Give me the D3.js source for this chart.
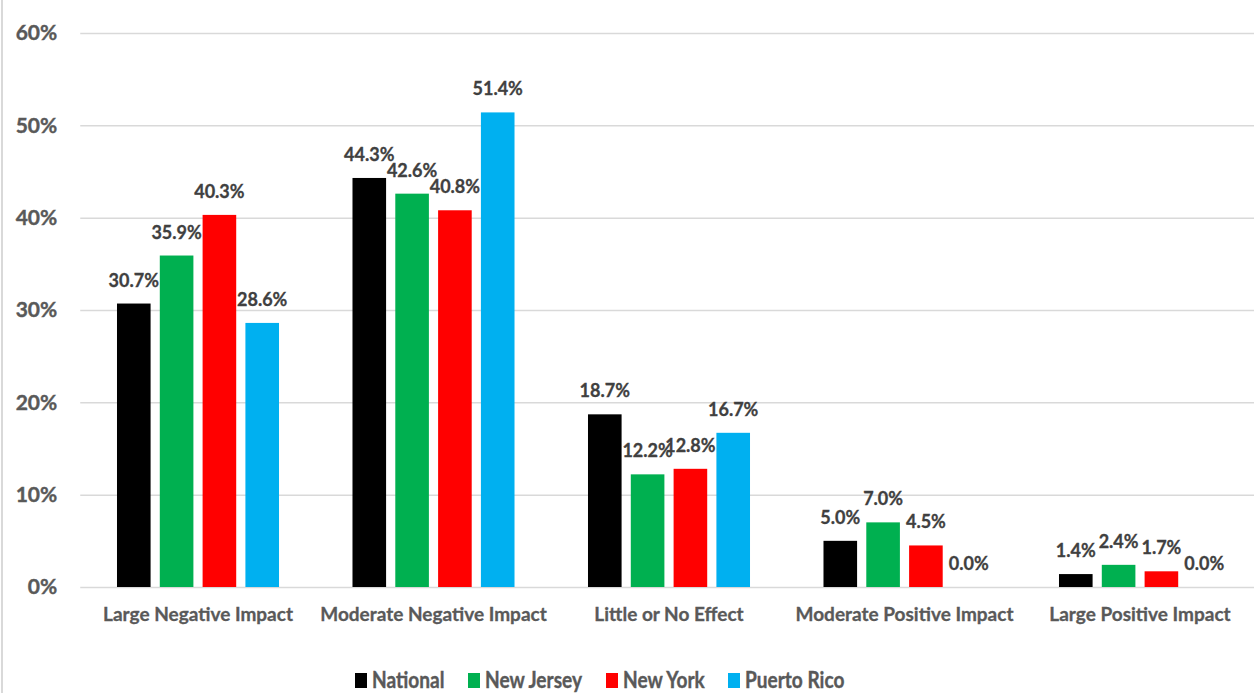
<!DOCTYPE html>
<html>
<head>
<meta charset="utf-8">
<script src="https://cdn.jsdelivr.net/npm/d3@7"></script>
<style>
  html, body { margin: 0; padding: 0; background: #ffffff; }
  svg { display: block; font-family: Lato, "Open Sans", sans-serif; font-weight: bold; }
</style>
</head>
<body>
<svg id="chart" width="1254" height="693"></svg>
<script>
// Survey responses by region: share of respondents per impact category
const categories = ["Large Negative Impact", "Moderate Negative Impact", "Little or No Effect", "Moderate Positive Impact", "Large Positive Impact"];
const seriesNames = ["National", "New Jersey", "New York", "Puerto Rico"];
const seriesColors = ["#000000", "#00B050", "#FF0000", "#00B0F0"];
const national   = [30.7, 44.3, 18.7, 5.0, 1.4];
const newJersey  = [35.9, 42.6, 12.2, 7.0, 2.4];
const newYork    = [40.3, 40.8, 12.8, 4.5, 1.7];
const puertoRico = [28.6, 51.4, 16.7, 0.0, 0.0];
const yTicks = [0, 10, 20, 30, 40, 50, 60];

const seriesValues = [national, newJersey, newYork, puertoRico];
const rows = [];
categories.forEach((c, ci) => {
  seriesNames.forEach((s, si) => rows.push({ category: c, series: s, value: seriesValues[si][ci], color: seriesColors[si] }));
});

const svg = d3.select("#chart");
const plotLeft = 80.25, plotRight = 1257.75, plotTop = 33, plotBottom = 587;

const x0 = d3.scaleBand().domain(categories).range([plotLeft, plotRight]).padding(0);
const bw = x0.bandwidth();
const x1 = d3.scaleBand().domain(seriesNames).range([bw * 0.156, bw * 0.844]).paddingInner(0.215).paddingOuter(0);
const y = d3.scaleLinear().domain([0, 60]).range([plotBottom, plotTop]);

// left frame edge
svg.append("line").attr("x1", 2).attr("x2", 2).attr("y1", 0).attr("y2", 693)
  .attr("stroke", "#d9d9d9").attr("stroke-width", 2);

// gridlines + y tick labels
const yAxis = d3.axisLeft(y).tickValues(yTicks).tickSize(-(plotRight - plotLeft)).tickFormat(d => d + "%");
const gy = svg.append("g").attr("transform", `translate(${plotLeft},0)`).call(yAxis);
gy.select(".domain").remove();
gy.selectAll(".tick line").attr("stroke", "#d9d9d9").attr("stroke-width", 1.5);
gy.selectAll(".tick text").attr("x", -23).attr("fill", "#595959")
  .attr("stroke", "#595959").attr("stroke-width", 0.4)
  .style("font-size", "21px").style("font-family", "Lato, sans-serif").style("font-weight", "bold");

// x category labels
const gx = svg.append("g").attr("transform", `translate(0,${plotBottom})`)
  .call(d3.axisBottom(x0).tickSize(0).tickPadding(21));
gx.select(".domain").remove();
gx.selectAll(".tick text").attr("fill", "#595959")
  .attr("stroke", "#595959").attr("stroke-width", 0.3)
  .style("font-size", "19px").style("font-family", "Lato, sans-serif").style("font-weight", "bold");

// bars
const groups = svg.append("g").selectAll("g").data(categories).join("g")
  .attr("transform", d => `translate(${x0(d)},0)`);
groups.selectAll("rect").data(c => rows.filter(r => r.category === c)).join("rect")
  .attr("x", d => x1(d.series))
  .attr("width", x1.bandwidth())
  .attr("y", d => y(d.value))
  .attr("height", d => y(0) - y(d.value))
  .attr("fill", d => d.color);

// value labels
groups.selectAll("text.val").data(c => rows.filter(r => r.category === c)).join("text")
  .attr("class", "val")
  .attr("x", d => x1(d.series) + x1.bandwidth() / 2)
  .attr("y", d => y(d.value) - 17)
  .attr("text-anchor", "middle")
  .attr("fill", "#404040")
  .attr("stroke", "#404040").attr("stroke-width", 0.3)
  .style("font-size", "18px")
  .text(d => d.value.toFixed(1) + "%");

// legend
const legendX = [355, 468, 606, 728];
const lg = svg.append("g").selectAll("g").data(seriesNames).join("g")
  .attr("transform", (d, i) => `translate(${legendX[i]},0)`);
lg.append("rect").attr("x", 0).attr("y", 673).attr("width", 12).attr("height", 15)
  .attr("fill", (d, i) => seriesColors[i]);
lg.append("text").attr("transform", "translate(17,688) scale(0.83,1)")
  .attr("fill", "#595959").attr("stroke", "#595959").attr("stroke-width", 0.4)
  .style("font-size", "23px").text(d => d);
</script>
</body>
</html>
